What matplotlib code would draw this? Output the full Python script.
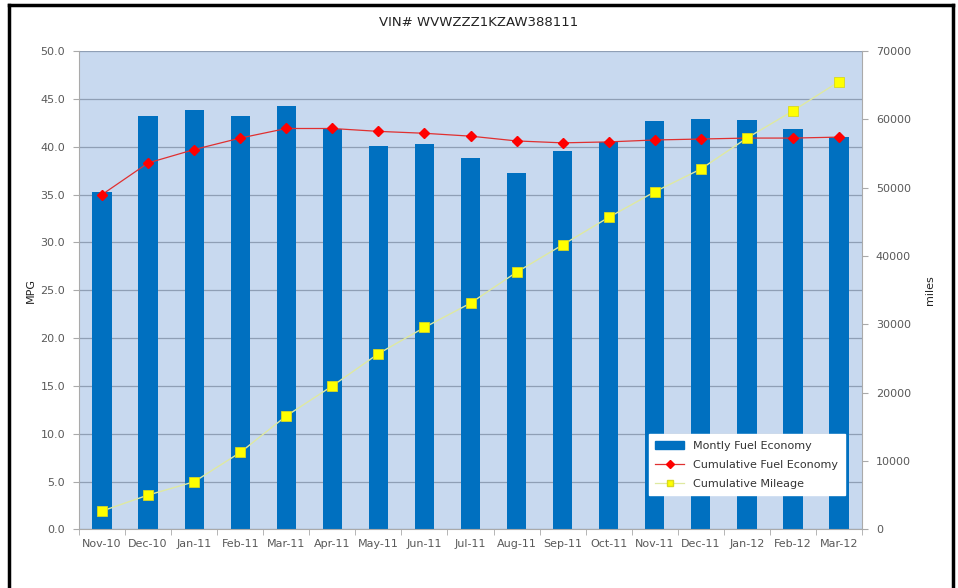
import matplotlib
matplotlib.use('Agg')
from matplotlib import pyplot as plt
from matplotlib.lines import Line2D
from matplotlib.patches import Rectangle
import numpy as np

months = ['Nov-10', 'Dec-10', 'Jan-11', 'Feb-11', 'Mar-11', 'Apr-11', 'May-11', 'Jun-11', 'Jul-11',
          'Aug-11', 'Sep-11', 'Oct-11', 'Nov-11', 'Dec-11', 'Jan-12', 'Feb-12', 'Mar-12']
monthly_mpg = [35.3, 43.2, 43.8, 43.2, 44.3, 41.8, 40.1, 40.3, 38.8,
               37.3, 39.5, 40.5, 42.7, 42.9, 42.8, 41.8, 41.0]
cumulative_mpg = [35.0, 38.3, 39.7, 40.9, 41.9, 41.9, 41.6, 41.4, 41.1,
                  40.6, 40.4, 40.5, 40.7, 40.8, 40.9, 40.9, 41.0]
cumulative_miles = [2700, 5040, 6980, 11270, 16610, 21000, 25720, 29560, 33110,
                    37640, 41640, 45660, 49400, 52730, 57250, 61240, 65520]

grey = '#595959'
x = np.arange(len(months))

fig = plt.figure(figsize=(9.58, 5.88), dpi=100)
ax = fig.add_axes([0.0825, 0.0995, 0.8173, 0.8138])
ax.set_facecolor('#c8d9ef')
ax.bar(x, monthly_mpg, width=0.42, color='#0070c0', zorder=2)
ax.plot(x, cumulative_mpg, color='#e03030', lw=0.9, marker='D', ms=5,
        mfc='#ff0000', mec='#ff0000', zorder=4)
ax.set_xlim(-0.5, len(months) - 0.5)
ax.set_ylim(0, 50)
ax.set_yticks(np.arange(0, 50.1, 5))
ax.set_yticklabels(['%.1f' % v for v in np.arange(0, 50.1, 5)])
ax.yaxis.grid(True, color='#8f9fb5', lw=0.9)
ax.set_axisbelow(True)
ax.set_xticks(x)
ax.set_xticklabels(months)
ax.set_xticks(np.arange(-0.5, len(months), 1), minor=True)
ax.tick_params(axis='x', which='major', length=0, pad=7, labelsize=8, labelcolor=grey)
ax.tick_params(axis='x', which='minor', length=4, color='#aaaaaa')
ax.tick_params(axis='y', length=4, color='#aaaaaa', labelsize=8, labelcolor=grey, pad=6)
ax.set_ylabel('MPG', fontsize=8, color='#222222', labelpad=3)
for s in ['top', 'right']:
    ax.spines[s].set_visible(False)
for s in ['left', 'bottom']:
    ax.spines[s].set_color('#aaaaaa')

ax2 = ax.twinx()
ax2.plot(x, cumulative_miles, color='#dfe9a0', lw=1.0, marker='s', ms=6.5,
         mfc='#ffff00', mec='#d8d820', mew=0.6, zorder=5)
ax2.set_ylim(0, 70000)
ax2.set_yticks(np.arange(0, 70001, 10000))
ax2.tick_params(axis='y', length=4, color='#aaaaaa', labelsize=8, labelcolor=grey, pad=6)
ax2.set_ylabel('miles', fontsize=8, color='#222222', labelpad=10)
for s in ['top', 'left', 'bottom']:
    ax2.spines[s].set_visible(False)
ax2.spines['right'].set_color('#aaaaaa')

handles = [Rectangle((0, 0), 1, 1, color='#0070c0'),
           Line2D([], [], color='#e03030', lw=0.9, marker='D', ms=4, mfc='#ff0000', mec='#ff0000'),
           Line2D([], [], color='#dfe9a0', lw=0.9, marker='s', ms=5, mfc='#ffff00', mec='#d8d820')]
leg = ax2.legend(handles, ['Montly Fuel Economy', 'Cumulative Fuel Economy', 'Cumulative Mileage'],
                 loc='lower right', bbox_to_anchor=(0.985, 0.06), fontsize=8, frameon=True,
                 fancybox=False, framealpha=1, edgecolor='white', handlelength=2.6,
                 labelspacing=0.8, borderpad=0.6)
for t in leg.get_texts():
    t.set_color('#333333')

fig.text(0.5, 0.962, 'VIN# WVWZZZ1KZAW388111', ha='center', va='center', fontsize=9.5, color='#222222')

# black frame around the chart
fig.add_artist(Line2D([0.009, 0.009], [0, 0.992], color='black', lw=2.5, transform=fig.transFigure))
fig.add_artist(Line2D([0.009, 0.995], [0.992, 0.992], color='black', lw=2.5, transform=fig.transFigure))
fig.add_artist(Line2D([0.995, 0.995], [0, 0.992], color='black', lw=2.5, transform=fig.transFigure))

plt.savefig('out.png', dpi=100)
